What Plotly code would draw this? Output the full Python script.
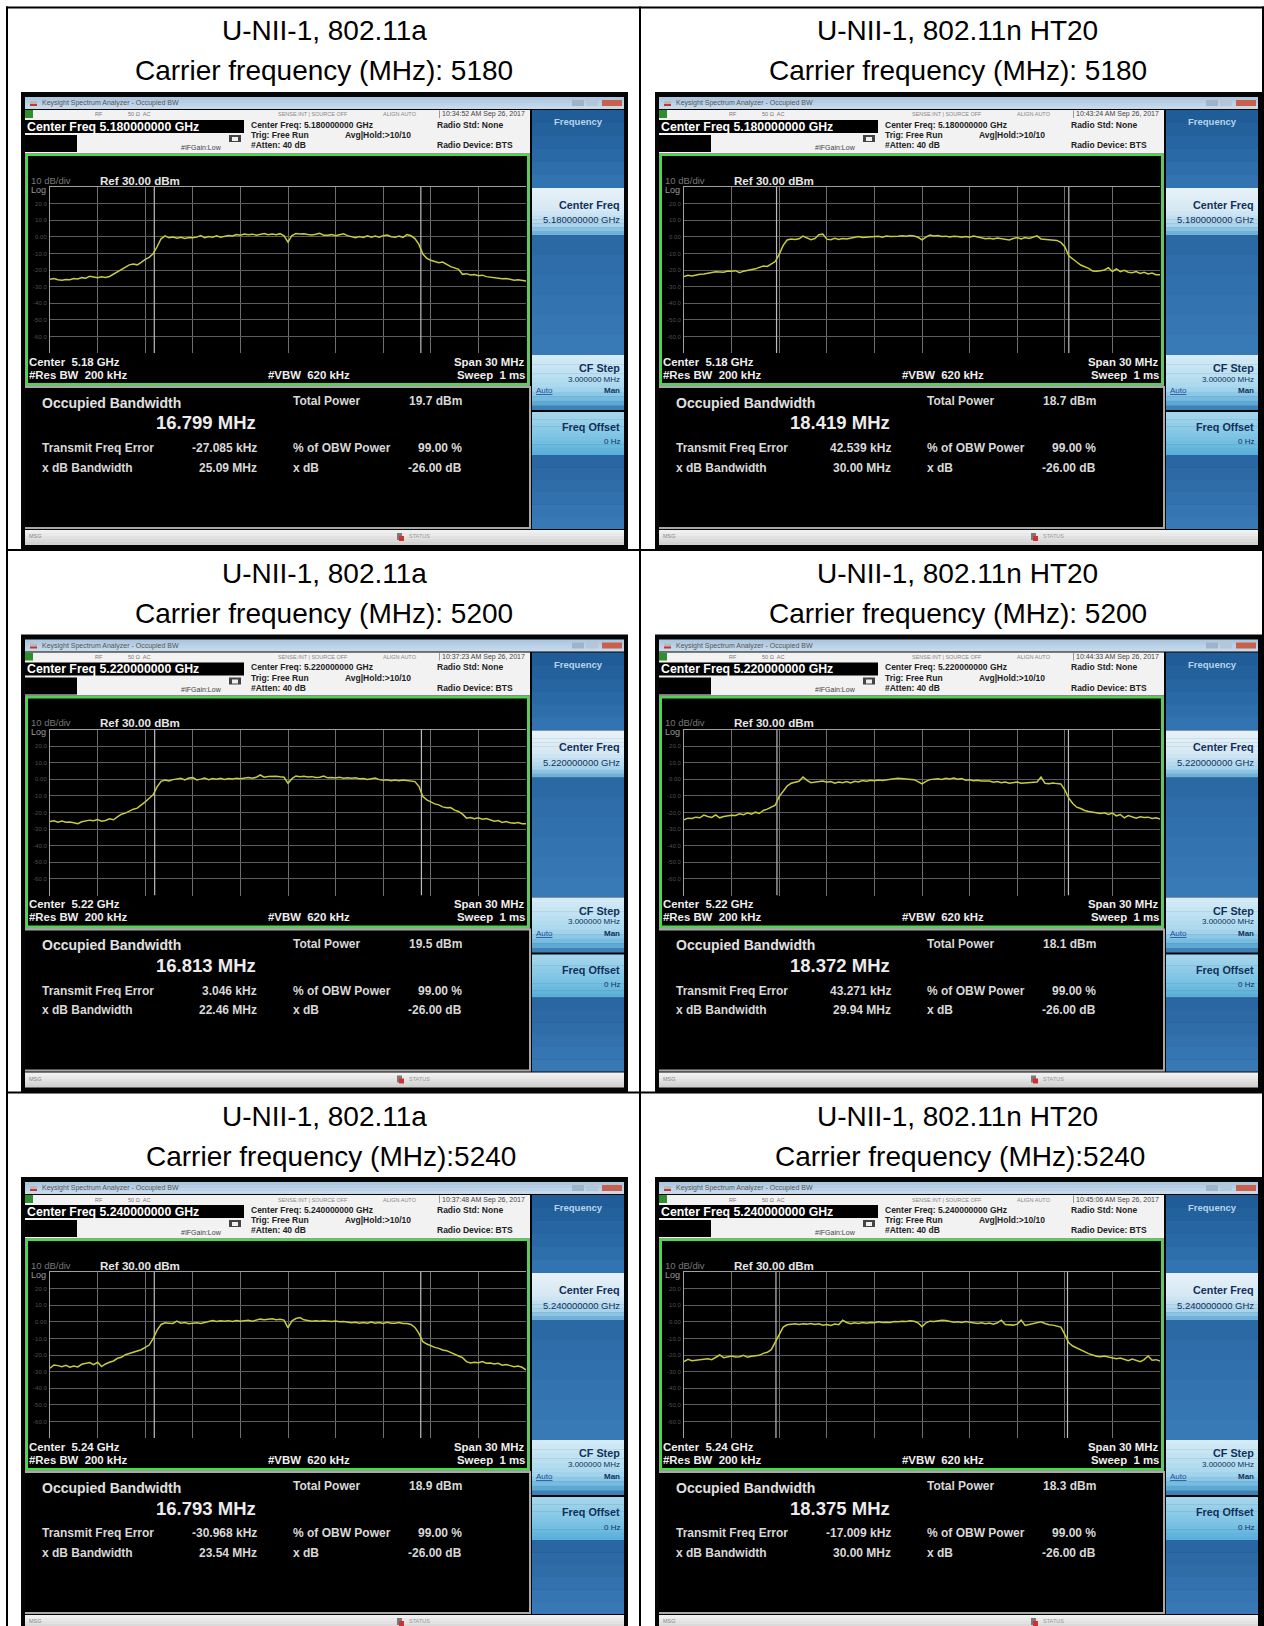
import numpy as np
import plotly.graph_objects as go

W, H = 1264, 1626

titles = ["U-NII-1, 802.11a", "U-NII-1, 802.11n HT20"] * 3
carriers = ["Carrier frequency (MHz): 5180", "Carrier frequency (MHz): 5180",
            "Carrier frequency (MHz): 5200", "Carrier frequency (MHz): 5200",
            "Carrier frequency (MHz):5240", "Carrier frequency (MHz):5240"]
center_short = ["5.18 GHz", "5.18 GHz", "5.22 GHz", "5.22 GHz", "5.24 GHz", "5.24 GHz"]
center_long = ["5.180000000 GHz", "5.180000000 GHz", "5.220000000 GHz",
               "5.220000000 GHz", "5.240000000 GHz", "5.240000000 GHz"]
timestamps = ["10:34:52 AM Sep 26, 2017", "10:43:24 AM Sep 26, 2017",
              "10:37:23 AM Sep 26, 2017", "10:44:33 AM Sep 26, 2017",
              "10:37:48 AM Sep 26, 2017", "10:45:06 AM Sep 26, 2017"]
total_power = ["19.7 dBm", "18.7 dBm", "19.5 dBm", "18.1 dBm", "18.9 dBm", "18.3 dBm"]
obw_mhz = [16.799, 18.419, 16.813, 18.372, 16.793, 18.375]
err_khz = ["-27.085", "42.539", "3.046", "43.271", "-30.968", "-17.009"]
xdb_bw = ["25.09 MHz", "30.00 MHz", "22.46 MHz", "29.94 MHz", "23.54 MHz", "30.00 MHz"]

ytick_vals = [20, 10, 0, -10, -20, -30, -40, -50, -60]
ytick_text = ["20.0", "10.0", "0.00", "-10.0", "-20.0", "-30.0", "-40.0", "-50.0", "-60.0"]
xgrid_mhz = [-15, -12, -9, -6, -3, 0, 3, 6, 9, 12, 15]
ygrid_db = [30, 20, 10, 0, -10, -20, -30, -40, -50, -60, -70]

trace_a5180 = [
    -25.6, -25.2, -25.9, -26.2, -25.7, -25.9, -25.1, -25.4, -24.6, -24.9, -23.8, -24.3, -24.6, -24.1, -24.5, -23.9,
    -22.4, -21.0, -19.6, -18.1, -16.9, -16.4, -16.9, -15.4, -13.6, -12.4, -10.2, -6.0, -1.2, 0.6,
    -0.6, -0.2, -0.9, -0.3, -1.0, -0.4, -0.6, -0.2, 0.8, -0.5, 0.1, -0.2, 0.6, -0.3, 0.4, 0.8, 0.5, 1.4, 1.0, 1.7,
    1.3, 1.6, 1.0, 1.5, 2.0, 1.2, 1.7, 1.3, 1.9, 0.6, -3.2,
    0.8, 2.0, 1.7, 1.9, 1.4, 1.1, 1.5, 2.1, 1.0, 0.9, 1.3, 0.6, 1.2, 1.8, 0.7, 0.2, -0.6, 0.1, -0.4, 0.6, -0.3, 0.4,
    -0.2, 0.7, 1.1, 0.0, -0.2, 0.5, -0.3, 1.4, 0.6, -1.1, -4.6, -10.4, -13.0, -14.1, -15.0, -15.6, -15.2, -16.6,
    -18.0, -18.7, -19.6, -22.6, -22.2, -23.0, -22.7, -23.4, -23.1, -24.0, -24.4, -24.6, -24.9, -25.3, -25.1, -25.6,
    -26.1, -25.9, -26.5, -26.7]
trace_n5180 = [
    -24.0, -23.2, -23.6, -23.0, -22.6, -22.4, -21.9, -21.6, -21.0, -21.2, -21.4, -20.6, -20.8, -20.4, -21.6, -20.7,
    -20.2, -20.1, -19.3, -18.4, -17.6, -17.9, -16.2, -14.9, -10.6, -5.2, -1.9, -1.4, -1.6, -1.2, 0.4, -0.8, -1.7,
    -1.0, 1.2, 1.6, -1.4, -1.8, -0.9, -1.6, -1.0, -1.3, -0.9, -0.3, 0.1, -0.4, -0.2, -0.3, 0.0, 0.3, -0.2, 0.5, 0.2,
    0.1, 0.4, 0.7, 0.3, 0.8, 0.5, -0.3, -1.9, -0.2, 1.0, 0.5, 0.8, 0.2, 0.4, -0.1, 0.3, 0.2, -0.2, 0.1, -0.3, 0.5,
    -0.1, -0.4, -1.1, -0.9, -1.3, -0.7, -1.2, -1.6, -1.9, -1.0, -0.5, -1.3, -0.4, -1.0, -0.2, 0.6, -1.3, -1.5, -1.6,
    -1.8, -2.2, -3.4, -6.0, -11.4, -13.6, -15.2, -17.0, -18.0, -19.0, -20.6, -20.8, -20.4, -20.0, -18.6, -20.9,
    -19.4, -21.0, -20.2, -21.3, -21.6, -20.9, -22.1, -21.4, -22.4, -21.8, -22.8, -22.9]
trace_a5200 = [
    -25.4, -25.0, -25.8, -25.2, -25.9, -25.7, -26.2, -26.8, -25.6, -25.0, -24.6, -24.9, -24.2, -25.2, -24.8, -23.8,
    -24.4, -22.6, -21.0, -20.4, -19.2, -18.0, -17.4, -15.6, -13.6, -11.4, -9.4, -4.6, -1.2, -0.4, -1.0, -0.2, 0.0,
    0.6, -0.4, 0.8, 1.0, -0.4, 0.1, 0.7, -0.2, 0.5, 0.1, 0.6, -0.1, 0.5, 0.2, 0.7, 0.3, 0.9, 1.1, 0.6, 1.2, 2.6, 1.3,
    1.7, 1.8, 1.9, 1.5, 1.2, -2.4, 0.4, 2.0, 1.6, 1.9, 1.4, 1.6, 1.1, 1.3, 2.0, 0.9, 1.1, 0.8, 1.2, 0.7, 1.0, 0.6,
    0.9, 0.4, 0.5, -0.1, 0.3, 0.8, -0.2, -0.6, -0.3, -0.8, -0.4, -0.9, -0.5, -0.7, -1.0, -1.4, -4.2, -10.4, -12.4,
    -13.6, -14.8, -15.4, -16.6, -17.2, -17.0, -18.6, -19.4, -21.0, -23.4, -23.0, -23.8, -23.2, -24.0, -23.6, -24.6,
    -25.2, -24.9, -26.0, -25.4, -26.2, -26.4, -26.0, -26.8, -26.8]
trace_n5200 = [
    -24.4, -23.4, -23.6, -22.8, -23.2, -21.6, -22.4, -23.0, -21.4, -23.2, -22.4, -22.0, -21.6, -21.8, -20.8, -21.4,
    -20.2, -21.0, -19.8, -20.6, -18.8, -18.0, -16.8, -15.6, -10.4, -6.8, -4.0, -2.4, -1.8, -1.2, 1.4, -0.6, -2.0,
    -1.6, -1.2, -1.0, -1.8, -1.4, -2.4, -1.6, -2.0, -1.4, -2.2, -1.2, -1.6, -0.8, -1.2, -0.6, -0.9, -0.4, -0.7, -0.2,
    0.1, 0.4, 0.6, 0.4, 0.5, 0.3, -0.2, -1.4, -2.8, -1.2, -0.2, 0.1, 0.3, -0.1, 0.6, 0.2, 0.7, 0.1, 0.4, -0.5, -0.3,
    -0.8, -0.6, -1.0, -1.2, -1.0, -1.7, -1.4, -2.1, -1.6, -2.4, -2.0, -1.6, -2.4, -2.2, -1.8, -1.4, -1.6, 1.4, -2.4,
    -2.6, -2.2, -2.6, -2.8, -6.4, -11.4, -14.6, -16.8, -17.6, -18.8, -19.4, -19.8, -20.0, -20.6, -20.2, -21.2, -20.4,
    -22.0, -21.2, -23.2, -21.8, -22.4, -23.4, -22.6, -23.0, -22.8, -23.6, -23.2, -24.0]
trace_a5240 = [
    -28.0, -26.0, -26.4, -27.0, -26.2, -27.4, -26.6, -27.2, -25.6, -25.2, -24.6, -25.8, -24.4, -27.0, -25.4, -24.4,
    -23.6, -22.0, -21.4, -19.8, -19.0, -18.2, -17.8, -16.8, -15.4, -14.0, -10.2, -5.0, -1.6, -0.6, -0.8, -1.0, 0.4,
    -0.8, -0.4, -1.2, -0.8, -0.6, -1.0, -0.4, 0.4, 0.8, 0.2, 0.6, 0.4, 0.7, 0.2, 0.8, 0.3, 0.6, 0.9, 0.3, 1.0, 1.6,
    1.2, 1.4, 1.8, 1.3, 1.5, 1.0, -3.6, 0.6, 2.0, 2.6, 1.2, 0.8, 0.4, 0.6, 0.3, 0.7, 0.4, 0.2, 0.5, 0.0, 0.2, -0.2,
    -0.6, -0.3, -0.8, -0.4, -0.9, -0.2, -0.8, -0.4, -1.0, -0.3, -0.9, -0.8, -0.5, -1.0, -1.0, -1.6, -3.4, -7.0, -12.0,
    -13.4, -14.6, -15.4, -16.0, -17.0, -17.4, -18.6, -19.4, -20.6, -21.6, -24.0, -24.8, -24.4, -24.6, -24.0, -25.0,
    -24.8, -25.4, -25.0, -26.2, -25.8, -26.4, -27.0, -26.6, -27.4, -29.0]
trace_n5240 = [
    -24.0, -22.6, -23.4, -23.0, -23.0, -22.6, -22.2, -22.8, -21.4, -20.0, -21.6, -21.0, -20.6, -21.2, -21.0, -20.2,
    -21.4, -20.8, -20.6, -20.2, -19.0, -18.4, -16.8, -12.0, -7.0, -3.2, -1.8, -1.4, -1.2, -1.6, -1.2, -1.4, -1.0,
    -1.6, -1.2, -2.0, -1.6, -2.2, -1.4, -1.8, 1.0, -0.4, -1.2, -0.6, -1.0, -0.4, -0.8, -0.4, -0.6, 0.0, -0.4, -0.2,
    -0.4, 0.2, 0.0, 0.4, 0.2, 0.6, 0.3, -0.6, -3.0, -0.6, 0.4, 0.2, 0.8, 1.0, 0.8, 0.4, -0.2, 0.0, -0.4, 0.2, -0.2,
    -0.8, -1.0, -0.6, -1.2, -0.8, -1.4, -0.6, 1.0, -1.6, -1.8, -2.0, -1.4, 1.0, -2.2, -1.6, -1.0, -0.8, 0.0, -1.0,
    -1.8, -2.0, -2.6, -3.2, -7.6, -12.6, -14.6, -15.8, -17.0, -18.4, -19.2, -20.0, -20.8, -21.0, -20.6, -21.2, -21.6,
    -22.2, -21.8, -22.6, -23.4, -22.4, -23.4, -24.0, -22.8, -20.6, -23.2, -22.8, -23.6]
traces = [trace_a5180, trace_n5180, trace_a5200, trace_n5200, trace_a5240, trace_n5240]

FONT = "Liberation Sans"
shapes, annots = [], []


def X(px):
    return px / W


def Y(py):
    return 1 - py / H


def rect(x0, y0, x1, y1, color):
    shapes.append(dict(type="rect", xref="paper", yref="paper", x0=X(x0), x1=X(x1), y0=Y(y0), y1=Y(y1),
                       fillcolor=color, line=dict(width=0), layer="below"))


def hexrgb(c):
    return [int(c[i:i + 2], 16) for i in (1, 3, 5)]


def grad(x0, y0, x1, y1, stops, n=12):
    """Stack of thin bands: Plotly shapes have no gradient fill."""
    pos = [s[0] for s in stops]
    cols = np.array([hexrgb(s[1]) for s in stops], float)
    for k in range(n):
        t = (k + 0.5) / n
        c = [int(np.interp(t, pos, cols[:, j])) for j in range(3)]
        a = y0 + (y1 - y0) * k / n
        b = y0 + (y1 - y0) * (k + 1) / n + 0.5
        rect(x0, a, x1, min(b, y1), f"rgb({c[0]},{c[1]},{c[2]})")


def text(x, y, s, size=10, color="#ffffff", bold=False, anchor="left"):
    annots.append(dict(xref="paper", yref="paper", x=X(x), y=Y(y), text=f"<b>{s}</b>" if bold else s,
                       showarrow=False, xanchor=anchor, yanchor="middle", borderpad=0,
                       font=dict(family=FONT, size=size, color=color)))


# table rules
ROW_TOPS = [7.5, 550, 1092.5]
for x in (7, 640, 1263):
    rect(x - 1, 6.5, x + 1, H, "#000000")
for y in ROW_TOPS:
    rect(6, y - 1, 1264, y + 1, "#000000")

layout = {}
data = []
COL_DX = [0, 634]
ROW_DY = [0, 542.5, 1085]
TITLE_CX = [324, 957.5]
CARRIER_CX = [[324, 958], [324, 958], [331, 960]]
for idx in range(6):
    col, row = idx % 2, idx // 2
    dx, dy = COL_DX[col], ROW_DY[row]

    def R(x0, y0, x1, y1, c):
        rect(x0 + dx, y0 + dy, x1 + dx, y1 + dy, c)

    def G(x0, y0, x1, y1, stops, n=12):
        grad(x0 + dx, y0 + dy, x1 + dx, y1 + dy, stops, n)

    def T(x, y, s, **kw):
        text(x + dx, y + dy, s, **kw)

    text(TITLE_CX[col], 31 + dy, titles[idx], size=28, color="#000000", anchor="center")
    text(CARRIER_CX[row][col], 71 + dy, carriers[idx], size=28, color="#000000", anchor="center")

    # instrument window
    R(21, 92, 628, 550, "#050505")
    G(25, 97, 624, 109, [(0, "#a9c4e0"), (1, "#c9dcec")], 4)
    T(41, 103, "Keysight Spectrum Analyzer - Occupied BW", size=7, color="#555555")
    R(30, 101, 37, 104, "#b8b8b8")
    R(30, 104, 37, 106, "#cc3333")
    R(572, 100, 584, 106, "#9fb4c8")
    R(586, 100, 598, 106, "#b4c6d8")
    R(602, 100, 622, 106, "#c8604c")

    R(25, 110, 530, 153, "#f2f2f2")
    R(25, 110, 33, 118, "#2f8f2f")
    T(94, 114.5, "RF", size=5.5, color="#777777")
    T(127, 114.5, "50 Ω  AC", size=5.5, color="#777777")
    T(277, 114.5, "SENSE:INT | SOURCE OFF", size=5.5, color="#888888")
    T(382, 114.5, "ALIGN AUTO", size=5.5, color="#888888")
    R(439, 110.5, 440, 118, "#999999")
    T(441, 114.5, timestamps[idx], size=7, color="#444444")
    R(25, 120, 244, 133, "#000000")
    T(26, 126.5, "Center Freq " + center_long[idx], size=12.3, color="#ffffff", bold=True)
    R(25, 135, 77, 152, "#000000")
    T(180, 147, "#IFGain:Low", size=7, color="#444444")
    R(229, 135, 241, 142, "#444444")
    R(232, 137, 238, 141, "#f0f0f0")
    T(250, 125, "Center Freq: " + center_long[idx], size=8.5, color="#222222", bold=True)
    T(250, 135, "Trig: Free Run", size=8.5, color="#222222", bold=True)
    T(344, 135, "Avg|Hold:&gt;10/10", size=8.5, color="#222222", bold=True)
    T(250, 145, "#Atten: 40 dB", size=8.5, color="#222222", bold=True)
    T(436, 125, "Radio Std: None", size=8.5, color="#222222", bold=True)
    T(436, 145, "Radio Device: BTS", size=8.5, color="#222222", bold=True)

    # trace window with green frame
    R(25, 153, 530, 388, "#9a9a9a")
    R(26, 154, 529, 385, "#3fe03f")
    R(28, 156, 527, 383, "#000000")
    T(30, 180, "10 dB/div", size=9.5, color="#777777")
    T(99, 180, "Ref 30.00 dBm", size=11.6, color="#e6e6e6", bold=True)
    T(30, 190, "Log", size=9, color="#999999")
    T(28, 362, "Center  " + center_short[idx], size=11.4, color="#eeeeee", bold=True)
    T(28, 375, "#Res BW  200 kHz", size=11.4, color="#eeeeee", bold=True)
    T(267, 375, "#VBW  620 kHz", size=11.4, color="#eeeeee", bold=True)
    T(526, 362, "Span 30 MHz", size=11.4, color="#eeeeee", bold=True, anchor="right")
    T(526, 375, "Sweep  1 ms", size=11.4, color="#eeeeee", bold=True, anchor="right")

    # results area
    R(25, 386, 531, 529, "#a8a8a8")
    R(25, 388, 529, 527, "#000000")
    T(41, 403, "Occupied Bandwidth", size=14, color="#e0e0e0", bold=True)
    T(257, 423, f"{obw_mhz[idx]:.3f} MHz", size=18.5, color="#ececec", bold=True, anchor="right")
    T(292, 401, "Total Power", size=12, color="#d8d8d8", bold=True)
    T(463, 401, total_power[idx], size=12, color="#d8d8d8", bold=True, anchor="right")
    T(41, 448, "Transmit Freq Error", size=12, color="#d8d8d8", bold=True)
    T(258, 448, err_khz[idx] + " kHz", size=12, color="#d8d8d8", bold=True, anchor="right")
    T(292, 448, "% of OBW Power", size=12, color="#d8d8d8", bold=True)
    T(463, 448, "99.00 %", size=12, color="#d8d8d8", bold=True, anchor="right")
    T(41, 468, "x dB Bandwidth", size=12, color="#d8d8d8", bold=True)
    T(258, 468, xdb_bw[idx], size=12, color="#d8d8d8", bold=True, anchor="right")
    T(292, 468, "x dB", size=12, color="#d8d8d8", bold=True)
    T(463, 468, "-26.00 dB", size=12, color="#d8d8d8", bold=True, anchor="right")

    # softkey column
    G(532, 110, 624, 188, [(0, "#1f5c96"), (0.6, "#2a6aa6"), (1, "#3577b4")], 6)
    G(532, 235, 624, 355, [(0, "#2a68a4"), (1, "#3a7cb8")], 6)
    G(532, 455, 624, 529, [(0, "#2d6aa6"), (0.1, "#2a66a2"), (1, "#3a7cb8")], 6)
    T(553, 122, "Frequency", size=9.5, color="#b8d4ea", bold=True)
    G(532, 188, 624, 235, [(0, "#e8f2f8"), (0.5, "#d4e8f4"), (0.8, "#a8d4ec"), (1, "#5fa8d4")])
    T(621, 205, "Center Freq", size=10.8, color="#12305a", bold=True, anchor="right")
    T(621, 220, center_long[idx], size=9.5, color="#12305a", anchor="right")
    G(532, 355, 624, 410, [(0, "#d8ecf6"), (0.6, "#a8d8ee"), (0.85, "#68b4dc"), (1, "#2f6ea8")])
    T(621, 368, "CF Step", size=10.8, color="#12305a", bold=True, anchor="right")
    T(621, 379, "3.000000 MHz", size=8, color="#12305a", anchor="right")
    T(535, 391, "<u>Auto</u>", size=8, color="#1a4c9a")
    T(621, 391, "Man", size=8, color="#12305a", bold=True, anchor="right")
    G(532, 412, 624, 455, [(0, "#a8d8ec"), (0.6, "#7cc4e4"), (1, "#58aedb")])
    T(621, 427, "Freq Offset", size=10.8, color="#12305a", bold=True, anchor="right")
    T(621, 442, "0 Hz", size=8, color="#12305a", anchor="right")

    # status strip
    G(25, 530, 624, 545, [(0, "#f4f4f4"), (0.5, "#e2e2e2"), (1, "#cfcfcf")], 5)
    T(28, 536, "MSG", size=5.5, color="#888888")
    T(408, 536, "STATUS", size=5.5, color="#999999")
    R(397, 533, 402, 540, "#7a7a7a")
    R(399, 536, 404, 541, "#d03030")

    # the plot itself
    n = idx + 1
    left, right = 50 + dx, 526 + dx
    top, bottom = 187 + dy, 353 + dy
    layout[f"xaxis{n}"] = dict(domain=[X(left), X(right)], range=[-15, 15], anchor=f"y{n}", side="top",
                               tickmode="array", tickvals=xgrid_mhz, showticklabels=False, ticks="",
                               showgrid=True, gridcolor="#6e6e6e", gridwidth=1, zeroline=False,
                               showline=True, linecolor="#a0a0a0", linewidth=1, fixedrange=True)
    layout[f"yaxis{n}"] = dict(domain=[Y(bottom), Y(top)], range=[-70, 30], anchor=f"x{n}",
                               tickmode="array", tickvals=ygrid_db,
                               ticktext=[""] + ytick_text + [""], ticks="",
                               tickfont=dict(family=FONT, size=6, color="#505050"), ticklabelstandoff=1,
                               showgrid=True, gridcolor="#5c5c5c", gridwidth=1, zeroline=False,
                               showline=True, linecolor="#a0a0a0", linewidth=1, fixedrange=True)
    err_mhz = float(err_khz[idx]) / 1000
    for edge in (err_mhz - obw_mhz[idx] / 2, err_mhz + obw_mhz[idx] / 2):
        data.append(go.Scatter(x=[edge, edge], y=[30, -70], mode="lines", xaxis=f"x{n}", yaxis=f"y{n}",
                               line=dict(color="#bdbdbd", width=1.2), hoverinfo="skip"))
    values = traces[idx]
    data.append(go.Scatter(x=np.linspace(-15, 15, len(values)), y=values, mode="lines",
                           xaxis=f"x{n}", yaxis=f"y{n}", line=dict(color="#c6cc3c", width=1.5),
                           hoverinfo="skip"))

fig = go.Figure(data=data)
fig.update_layout(width=W, height=H, margin=dict(l=0, r=0, t=0, b=0), autosize=False,
                  paper_bgcolor="#ffffff", plot_bgcolor="rgba(0,0,0,0)", showlegend=False,
                  shapes=shapes, annotations=annots, **layout)
fig.write_html("out.html", config={"displayModeBar": False},
               post_script="document.body.style.margin='0';document.documentElement.style.overflow='hidden';")
